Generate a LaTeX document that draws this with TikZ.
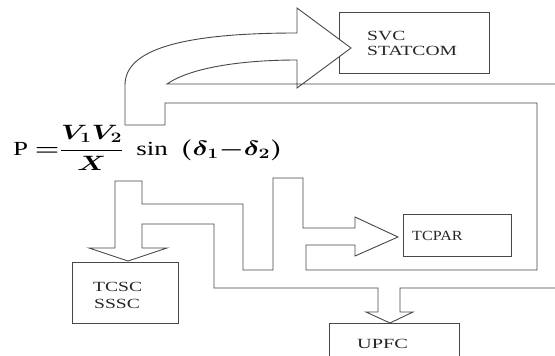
\documentclass[tikz,border=0pt]{standalone}
\usepackage{fontspec}
\setmainfont{Liberation Serif}
\usepackage{graphicx}
\tikzset{
  ln/.style={draw=black!72, line width=0.9pt, line join=miter},
  box/.style={draw=black!72, line width=0.9pt, rectangle, inner sep=0pt},
  lbl/.style={inner sep=0pt, anchor=base west, font=\fontsize{14}{15}\selectfont, text=black!85}
}
\begin{document}
\begin{tikzpicture}[x=1pt,y=-1pt]
\useasboundingbox (0,0) rectangle (555,356);
\clip (0,0) rectangle (555,356);
% boxes
\node[box, minimum width=150pt, minimum height=61pt] (svc) at (414,42.5) {};
\node[box, minimum width=108pt, minimum height=42pt] (tcpar) at (457,235) {};
\node[box, minimum width=106pt, minimum height=61pt] (tcsc) at (125,292.5) {};
\node[box, minimum width=130pt, minimum height=60pt] (upfc) at (394,353) {};
% curved arrow to SVC (white fill hides box edge)
\fill[white] (125,125) -- (125,85) .. controls (125,50) and (180,33) .. (297,33) -- (297,8) -- (351,48) -- (297,88) -- (297,60) .. controls (240,60) and (190,68) .. (167,84) -- (165,125) -- cycle;
\draw[ln] (125,125) -- (125,85) .. controls (125,50) and (180,33) .. (297,33) -- (297,8) -- (351,48) -- (297,88) -- (297,60) .. controls (240,60) and (190,68) .. (167,84) -- (555,84);
\draw[ln] (125,125) -- (165,125) -- (165,103) -- (537,103) -- (537,270) -- (306,270) -- (306,245) -- (355,245) -- (355,256) -- (398,237) -- (355,217) -- (355,228) -- (303,228) -- (303,178) -- (273,178) -- (273,270) -- (243,270) -- (243,204) -- (142,204) -- (142,181) -- (115,181) -- (115,248) -- (89,248) -- (128,261) -- (167,248) -- (142,248) -- (142,224) -- (214,224) -- (214,288) -- (378,288) -- (378,312) -- (366,312) -- (390,323) -- (413,312) -- (400,312) -- (400,288) -- (555,288);
% labels
\node[lbl] (svc1) at (367,40.7) {\scalebox{1.4}[1]{SVC}};
\node[lbl] (svc2) at (367,56) {\scalebox{1.4}[1]{STATCOM}};
\node[lbl] (tcpart) at (412,240) {\scalebox{1.15}[1]{TCPAR}};
\node[lbl] (tcsc1) at (93,291) {\scalebox{1.4}[1]{TCSC}};
\node[lbl] (tcsc2) at (94,308) {\scalebox{1.4}[1]{SSSC}};
\node[lbl] (upfct) at (357,348) {\scalebox{1.45}[1]{UPFC}};
% formula
\node[inner sep=0pt, anchor=base west] (eq) at (13,155) {\scalebox{1.35}[1]{\fontsize{20}{24}\selectfont\boldmath$\displaystyle \mbox{P}\ {=}\frac{V_1V_2}{X}\mskip 7mu\mbox{sin}\mskip 7mu(\delta_1{-}\delta_2)$}};
\end{tikzpicture}
\end{document}
